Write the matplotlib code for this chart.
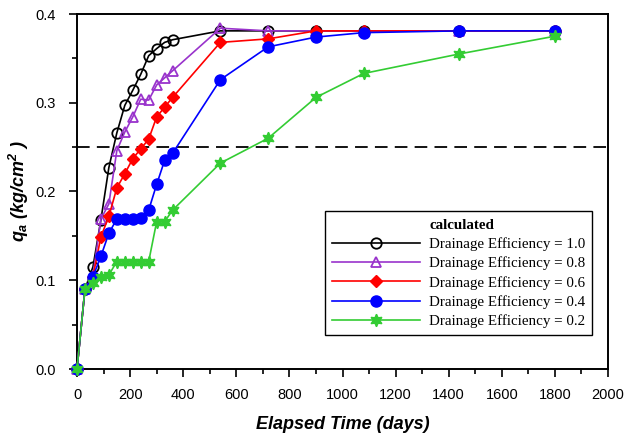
import matplotlib
matplotlib.use("Agg")
import matplotlib.pyplot as plt
from matplotlib.lines import Line2D
from matplotlib.ticker import MultipleLocator, FormatStrFormatter

# ---- data ----
time_days = [0, 30, 60, 90, 120, 150, 180, 210, 240, 270, 300, 330, 360,
             540, 720, 900, 1080, 1440, 1800]
q_eff_10 = [0.0, 0.090, 0.115, 0.168, 0.227, 0.266, 0.297, 0.314, 0.332, 0.353,
            0.361, 0.368, 0.371, 0.381, 0.381, 0.381, 0.381, 0.381, 0.381]
q_eff_08 = [0.0, 0.090, 0.105, 0.169, 0.186, 0.246, 0.267, 0.284, 0.304, 0.303,
            0.320, 0.328, 0.336, 0.384, 0.381, 0.381, 0.381, 0.381, 0.381]
q_eff_06 = [0.0, 0.090, 0.104, 0.149, 0.172, 0.204, 0.220, 0.237, 0.248, 0.259,
            0.284, 0.295, 0.306, 0.368, 0.372, 0.381, 0.381, 0.381, 0.381]
q_eff_04 = [0.0, 0.090, 0.104, 0.127, 0.153, 0.169, 0.169, 0.169, 0.170, 0.179,
            0.208, 0.235, 0.243, 0.326, 0.363, 0.374, 0.379, 0.381, 0.381]
q_eff_02 = [0.0, 0.090, 0.097, 0.104, 0.106, 0.121, 0.121, 0.121, 0.121, 0.121,
            0.166, 0.166, 0.179, 0.232, 0.260, 0.306, 0.333, 0.355, 0.375]
threshold = 0.25
labels = ["Drainage Efficiency = 1.0", "Drainage Efficiency = 0.8",
          "Drainage Efficiency = 0.6", "Drainage Efficiency = 0.4",
          "Drainage Efficiency = 0.2"]
legend_title = "calculated"

# ---- styling ----
plt.rcParams['font.family'] = ['Liberation Sans', 'DejaVu Sans']
plt.rcParams['mathtext.fontset'] = 'custom'
plt.rcParams['mathtext.rm'] = 'Liberation Sans:bold:italic'
plt.rcParams['mathtext.it'] = 'Liberation Sans:bold:italic'
plt.rcParams['mathtext.bf'] = 'Liberation Sans:bold:italic'

fig = plt.figure(figsize=(6.28, 4.36), dpi=100)
ax = fig.add_axes([77/628, 1-369/436, (608-77)/628, (369-14)/436])

styles = [
    dict(color='black', marker='o', ms=7.5, mfc='none', mew=1.3),
    dict(color='#9933cc', marker='^', ms=7.5, mfc='none', mew=1.3),
    dict(color='#ff0000', marker='D', ms=6, mfc='#ff0000', mew=1),
    dict(color='#0000ff', marker='o', ms=8, mfc='#0000ff', mew=1),
    dict(color='#33cc33', marker=(6, 1, 0), ms=9, mfc='#33cc33', mew=1),
]
series = [q_eff_10, q_eff_08, q_eff_06, q_eff_04, q_eff_02]

handles = []
for s, st, lab in zip(series, styles, labels):
    h, = ax.plot(time_days, s, lw=1.2, label=lab, clip_on=False, zorder=3, **st)
    handles.append(h)

ax.axhline(threshold, color='black', lw=1.3, dashes=(7, 4), zorder=2)

ax.set_xlim(0, 2000)
ax.set_ylim(0, 0.4)
ax.xaxis.set_major_locator(MultipleLocator(200))
ax.xaxis.set_minor_locator(MultipleLocator(100))
ax.yaxis.set_major_locator(MultipleLocator(0.1))
ax.yaxis.set_minor_locator(MultipleLocator(0.05))
ax.yaxis.set_major_formatter(FormatStrFormatter('%.1f'))
ax.tick_params(which='both', direction='out', width=1.2, top=False, right=False,
               labelsize=10.5)
ax.tick_params(which='major', length=6, pad=8)
ax.tick_params(axis='y', which='major', pad=9)
ax.tick_params(which='minor', length=3.5)
for sp in ax.spines.values():
    sp.set_linewidth(1.4)

ax.set_xlabel('Elapsed Time (days)', fontsize=13, fontweight='bold',
              style='italic', labelpad=10)
ax.set_ylabel(r'$q_a$ (kg/cm$^2$ )', fontsize=13, fontweight='bold',
              style='italic', labelpad=3)

title_handle = Line2D([], [], linestyle='none', marker=None)
leg = ax.legend([title_handle] + handles, [legend_title] + labels,
                loc='lower left', bbox_to_anchor=(0.467, 0.096),
                frameon=True, fancybox=False, edgecolor='black',
                framealpha=1, handlelength=5.9, handletextpad=0.6,
                labelspacing=0.37, borderpad=0.45, borderaxespad=0,
                prop={'family': 'Liberation Serif', 'size': 10.8})
leg.get_frame().set_linewidth(1.0)
leg.get_texts()[0].set_fontweight('bold')

fig.savefig('out.png', dpi=100)
